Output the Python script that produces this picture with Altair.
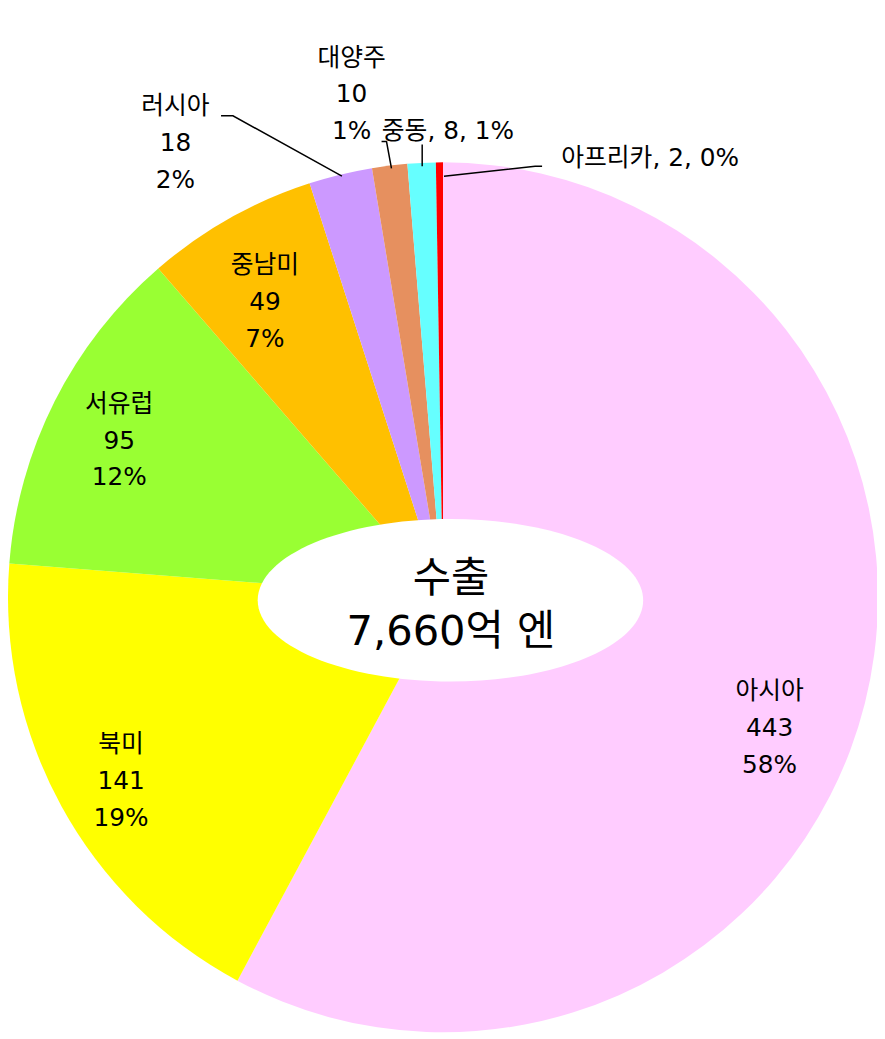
import altair as alt
import pandas as pd

# ---------------- data ----------------
regions = ["아시아", "북미", "서유럽", "중남미", "러시아", "대양주", "중동", "아프리카"]
values = [443, 141, 95, 49, 18, 10, 8, 2]
percents = [58, 19, 12, 7, 2, 1, 1, 0]
colors = ["#FFCCFF", "#FFFF00", "#99FF33", "#FFC000", "#CC99FF", "#E6905F", "#66FFFF", "#FF0000"]
center_lines = ["수출", "7,660억 엔"]

# ---------------- layout ----------------
W, H = 877, 1031
CX, CY, R = 439, 590, 439
FONT = "DejaVu Sans, Noto Sans CJK KR, sans-serif"
LABEL_FS, LABEL_LH = 25, 37
# label block centre in polar coords relative to the pie centre (deg clockwise from north, px)
label_angle = [111.8, 240.3, 295.8, 328.9, 329.5, 349.7, 0.6, 25.25]
label_radius = [355, 374, 363, 348, 532, 516, 471, 490]
single_line = [False, False, False, False, False, False, True, True]
# leader lines (view pixels), one polyline per labelled small slice
leaders = {
    "러시아": [(215, 104), (227, 104), (337, 165)],
    "대양주": [(377, 130), (382, 130), (387, 157)],
    "중동": [(418, 133), (418, 155)],
    "아프리카": [(539, 155), (532, 155), (440, 165)],
}
ELL_CX, ELL_CY, ELL_RX, ELL_RY = 446.5, 593, 194.5, 82

# ---------------- tables ----------------
labels = []
for r, v, p, s in zip(regions, values, percents, single_line):
    labels.append(f"{r}, {v}, {p}%" if s else f"{r}\n{v}\n{p}%")

df = pd.DataFrame({
    "region": regions,
    "value": values,
    "idx": list(range(len(regions))),
    "label": labels,
    "deg": label_angle,
    "lr": label_radius,
    "single": single_line,
})

lead_rows = []
for name, pts in leaders.items():
    for k, (x, y) in enumerate(pts):
        lead_rows.append({"g": name, "k": k, "x": x, "y": y})
lead_df = pd.DataFrame(lead_rows)

arcs = alt.Chart(df).mark_arc(radius=R).encode(
    theta=alt.Theta("value:Q", stack=True),
    color=alt.Color("region:N", scale=alt.Scale(domain=regions, range=colors), legend=None),
    order=alt.Order("idx:Q"),
    x=alt.value(CX),
    y=alt.value(CY),
)

ratio = ELL_RY / ELL_RX
ell_path = f"M -1 0 A 1 {ratio:.4f} 0 1 0 1 0 A 1 {ratio:.4f} 0 1 0 -1 0 Z"
ellipse = alt.Chart(pd.DataFrame({"e": [0]})).mark_point(
    shape=ell_path, size=(2 * ELL_RX) ** 2, filled=True, fill="white",
    opacity=1, strokeWidth=0,
).encode(x=alt.value(ELL_CX), y=alt.value(ELL_CY))

center_text = alt.Chart(pd.DataFrame({"t": ["\n".join(center_lines)]})).mark_text(
    font=FONT, fontSize=42, lineBreak="\n", lineHeight=53,
    align="center", baseline="middle", color="black", dy=-26.5,
).encode(text="t:N", x=alt.value(447), y=alt.value(598.5))


def label_layer(single, dy):
    return alt.Chart(df).transform_filter(
        f"datum.single == {'true' if single else 'false'}"
    ).transform_calculate(
        la="datum.deg * PI / 180"
    ).mark_text(
        font=FONT, fontSize=LABEL_FS, lineBreak="\n", lineHeight=LABEL_LH,
        align="center", baseline="middle", color="black", dy=dy,
    ).encode(
        text="label:N",
        theta=alt.Theta("la:Q", scale=None, stack=False),
        radius=alt.Radius("lr:Q", scale=None),
        x=alt.value(CX),
        y=alt.value(CY),
    )


lead_lines = alt.Chart(lead_df).mark_line(color="black", strokeWidth=1.5).encode(
    x=alt.X("x:Q", scale=None),
    y=alt.Y("y:Q", scale=None),
    detail="g:N",
    order="k:Q",
)

chart = alt.layer(
    arcs, ellipse, center_text, lead_lines,
    label_layer(False, -LABEL_LH), label_layer(True, 0),
).properties(
    width=W, height=H, autosize=alt.AutoSizeParams(type="none"), padding=0
).configure_view(stroke=None)

chart.save("out.html", embed_options={"renderer": "svg", "actions": False})
